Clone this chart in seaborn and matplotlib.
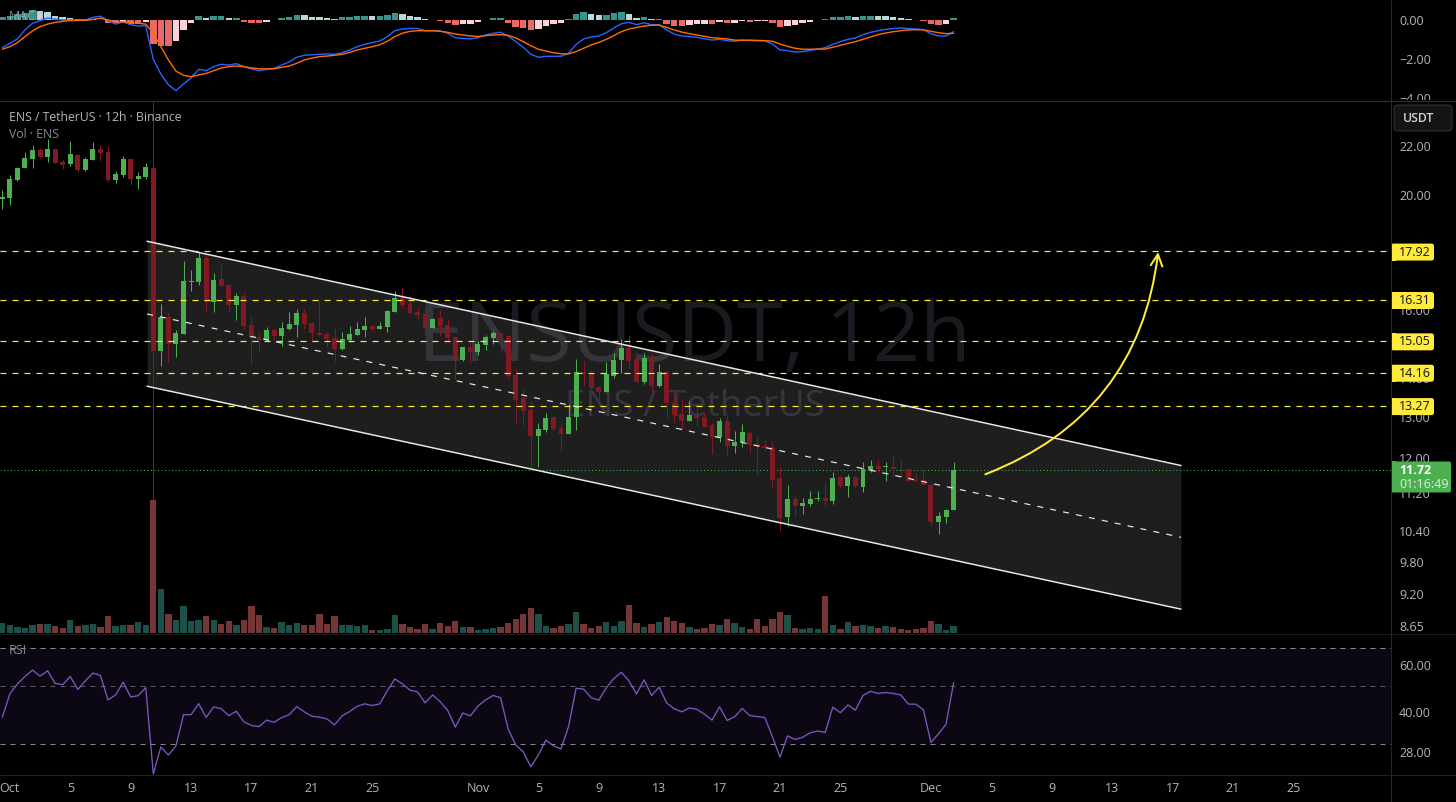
import matplotlib
matplotlib.use("Agg")
import matplotlib.pyplot as plt
import numpy as np
import pandas as pd
import seaborn as sns
from matplotlib.patches import FancyBboxPatch, Rectangle
from matplotlib.ticker import NullLocator
from matplotlib.transforms import Bbox

opens = [19.84,19.88,20.59,21.08,21.46,21.83,21.54,21.87,21.33,21.25,21.62,21.00,21.41,21.87,21.75,20.59,20.79,21.46,20.63,20.71,
 21.08,14.76,15.77,14.97,15.26,16.88,16.88,17.69,16.24,16.98,16.78,16.14,16.43,15.53,15.17,15.08,15.38,15.20,15.41,15.53,
 15.89,15.59,15.29,15.26,15.14,14.82,15.08,15.23,15.38,15.50,15.41,15.47,15.92,16.37,16.18,15.92,15.86,15.44,15.74,15.53,
 15.17,14.51,14.88,14.73,14.94,15.14,15.29,15.20,14.09,13.47,13.16,12.51,12.66,12.98,12.71,12.56,12.98,14.17,14.12,13.76,
 13.63,14.06,14.51,14.85,14.53,13.90,14.56,13.79,14.17,13.34,13.06,12.88,13.03,12.98,12.78,12.49,12.88,12.27,12.37,12.58,
 12.32,12.27,12.25,11.53,10.69,11.07,10.92,10.96,11.07,11.09,11.03,11.55,11.35,11.55,11.33,11.71,11.82,11.78,11.78,11.75,
 11.75,11.50,11.50,11.39,10.59,10.69,10.84]
highs = [20.19,20.79,21.12,21.75,22.04,21.91,22.30,21.87,21.46,22.21,21.66,21.54,22.17,22.04,22.00,20.96,21.58,21.46,20.92,21.29,
 24.20,16.18,15.92,15.38,17.59,17.28,17.90,17.83,17.18,17.45,16.82,16.53,16.56,15.80,15.32,15.47,15.41,15.62,15.92,16.02,
 16.02,15.62,16.30,15.32,15.44,15.32,15.50,15.62,15.77,15.50,15.62,15.98,16.59,16.72,16.43,16.05,16.11,15.74,15.98,15.71,
 15.17,14.88,14.99,15.05,15.23,15.35,15.29,15.23,14.26,13.71,13.39,12.83,13.08,12.98,12.83,13.31,14.53,14.48,14.23,13.76,
 14.45,14.70,15.11,15.23,14.53,14.70,14.70,14.40,14.23,13.60,13.44,13.39,13.34,13.11,12.83,12.96,13.06,12.63,12.81,12.63,
 12.49,12.41,12.39,11.78,11.39,11.15,11.09,11.24,11.24,11.44,11.68,11.59,11.62,11.59,11.89,11.94,11.98,11.89,12.03,11.94,
 11.75,11.66,11.71,11.42,10.79,10.86,11.91]
lows = [19.46,19.61,20.55,21.08,21.08,21.50,21.33,21.29,21.04,21.16,20.92,20.96,21.41,21.37,20.51,20.47,20.71,20.39,20.23,20.63,
 11.05,14.34,14.45,14.59,15.26,16.59,16.78,15.92,15.92,16.72,15.92,15.68,15.38,14.40,14.73,15.05,15.08,14.91,15.38,15.17,
 15.41,15.02,15.20,14.88,14.48,14.79,15.02,15.23,15.17,15.35,15.41,15.32,15.92,16.05,15.86,15.71,15.23,15.44,15.20,15.05,
 13.98,14.48,14.42,14.65,14.79,14.97,14.70,13.98,12.83,12.78,11.73,11.78,12.61,12.63,12.17,12.56,12.66,13.79,13.63,13.26,
 13.63,14.01,14.15,14.26,13.87,13.84,13.63,13.76,12.96,12.83,12.68,12.88,12.76,12.73,12.08,12.37,12.05,12.10,12.25,12.10,
 11.62,12.17,11.31,10.40,10.50,10.71,10.75,10.92,11.03,10.92,10.96,11.31,11.11,11.31,11.22,11.68,11.66,11.48,11.59,11.57,
 11.48,11.44,11.37,10.50,10.34,10.57,10.84]
closes = [19.92,20.63,21.08,21.50,21.83,21.54,21.87,21.29,21.21,21.66,21.00,21.46,21.87,21.71,20.59,20.83,21.46,20.63,20.75,21.12,
 14.76,15.77,14.97,15.29,16.92,16.92,17.69,16.24,16.95,16.75,16.14,16.43,15.50,15.14,15.08,15.38,15.20,15.44,15.56,15.89,
 15.56,15.29,15.23,15.11,14.82,15.11,15.26,15.41,15.50,15.41,15.50,15.95,16.37,16.14,15.89,15.83,15.44,15.71,15.50,15.14,
 14.51,14.88,14.73,14.97,15.17,15.29,15.17,14.06,13.42,13.13,12.51,12.68,12.96,12.68,12.56,12.98,14.17,14.12,13.74,13.63,
 14.12,14.51,14.85,14.48,13.90,14.56,13.79,14.17,13.34,13.03,12.88,13.03,12.96,12.73,12.49,12.88,12.27,12.37,12.61,12.29,
 12.25,12.22,11.50,10.67,11.07,10.92,10.98,11.07,11.09,11.03,11.53,11.35,11.55,11.35,11.73,11.82,11.75,11.80,11.75,11.73,
 11.48,11.46,11.37,10.59,10.71,10.84,11.72]
volume = [31,25,19,16,25,28,28,22,16,40,22,25,28,19,52,22,25,25,34,25,400,133,58,40,82,37,40,52,40,28,37,25,40,82,55,19,16,34,25,31,
 25,25,58,28,52,25,25,22,25,10,10,13,55,28,19,13,28,13,31,22,37,19,19,10,13,16,19,31,43,58,76,58,22,16,22,28,64,28,16,22,34,22,37,85,
 31,19,28,34,49,37,31,19,13,16,28,25,43,31,19,13,43,22,43,64,55,16,13,16,13,112,25,13,34,22,25,22,16,22,19,13,10,13,16,37,28,10,22]
rsi = [38.06,46.7,51.0,54.45,57.6,54.6,57.3,51.2,50.7,54.45,48.6,52.4,56.1,54.9,44.3,46.3,51.8,45.5,46.0,49.4,23.1,29.3,27.3,29.6,38.9,38.9,
 42.9,38.0,41.7,41.0,38.6,40.1,36.5,35.4,35.05,37.1,36.4,37.95,38.9,41.8,39.9,38.4,38.05,37.5,35.6,38.5,40.0,41.9,42.8,42.2,42.8,48.1,53.3,
 51.0,48.3,47.6,43.2,46.3,43.6,40.4,34.9,39.5,38.5,42.0,44.3,46.1,45.2,34.3,29.8,28.1,24.6,27.3,31.1,29.6,28.8,35.05,49.1,48.7,45.2,44.2,
 49.3,53.5,56.5,52.4,46.7,52.9,46.1,49.6,43.1,41.0,39.9,41.3,40.8,39.1,37.1,41.7,37.0,38.2,41.1,38.6,38.3,37.95,32.1,26.8,32.3,31.3,31.9,
 33.2,33.7,33.3,41.6,39.6,42.4,40.5,46.1,47.8,46.9,47.3,46.9,46.3,42.7,42.7,40.6,30.5,32.9,35.8,51.6]
macd = [-1.42,-1.20,-0.97,-0.51,-0.17,-0.03,0.10,0.05,0,0,0,0,0.14,0.19,-0.03,-0.21,-0.10,-0.24,-0.31,-0.29,-2.02,-2.77,-3.33,-3.62,-3.28,-2.97,
 -2.53,-2.60,-2.39,-2.27,-2.31,-2.24,-2.39,-2.51,-2.60,-2.53,-2.48,-2.31,-2.15,-1.91,-1.81,-1.78,-1.76,-1.74,-1.76,-1.68,-1.54,-1.37,-1.25,
 -1.16,-1.08,-0.85,-0.55,-0.46,-0.43,-0.44,-0.55,-0.55,-0.56,-0.68,-0.91,-0.94,-0.97,-0.91,-0.77,-0.68,-0.63,-0.82,-1.11,-1.40,-1.76,-1.91,
 -1.86,-1.86,-1.86,-1.71,-1.25,-0.97,-0.87,-0.82,-0.65,-0.41,-0.19,-0.12,-0.24,-0.14,-0.24,-0.24,-0.51,-0.72,-0.82,-0.85,-0.89,-0.96,-1.03,
 -0.99,-1.06,-1.09,-1.03,-1.04,-1.04,-1.06,-1.23,-1.54,-1.57,-1.64,-1.62,-1.56,-1.49,-1.42,-1.25,-1.11,-0.99,-0.92,-0.75,-0.63,-0.55,-0.48,
 -0.44,-0.41,-0.44,-0.46,-0.50,-0.70,-0.82,-0.82,-0.60]
signal = [-1.50,-1.37,-1.16,-0.85,-0.56,-0.34,-0.21,-0.12,-0.07,-0.03,-0.02,-0.02,0.03,0.09,0,-0.09,-0.10,-0.12,-0.17,-0.21,-0.68,-1.37,-2.05,-2.62,
 -2.84,-2.91,-2.82,-2.74,-2.60,-2.46,-2.39,-2.36,-2.39,-2.46,-2.50,-2.51,-2.50,-2.43,-2.36,-2.22,-2.05,-1.95,-1.88,-1.85,-1.81,-1.76,-1.66,-1.54,
 -1.45,-1.37,-1.27,-1.09,-0.85,-0.68,-0.58,-0.55,-0.55,-0.55,-0.58,-0.63,-0.72,-0.77,-0.82,-0.85,-0.80,-0.77,-0.75,-0.79,-0.92,-1.11,-1.32,-1.50,
 -1.59,-1.68,-1.73,-1.74,-1.62,-1.45,-1.28,-1.15,-0.99,-0.80,-0.60,-0.46,-0.39,-0.31,-0.27,-0.26,-0.38,-0.51,-0.62,-0.70,-0.77,-0.84,-0.91,-0.94,
 -0.97,-1.03,-1.04,-1.04,-1.06,-1.06,-1.09,-1.23,-1.35,-1.45,-1.50,-1.50,-1.49,-1.49,-1.40,-1.30,-1.20,-1.11,-0.99,-0.87,-0.75,-0.67,-0.60,-0.55,
 -0.51,-0.50,-0.50,-0.58,-0.65,-0.70,-0.68]
hist = [0.14,0.22,0.31,0.38,0.51,0.46,0.41,0.21,0.14,0.09,0.05,0.04,0.03,0.02,-0.15,-0.17,-0.10,-0.19,-0.21,-0.10,-1.23,-1.33,-1.34,-1.08,-0.51,-0.15,
 0.22,0.10,0.21,0.22,0.10,0.11,-0.10,-0.15,-0.16,-0.10,0.02,0.10,0.15,0.26,0.25,0.15,0.14,0.10,0.05,0.15,0.16,0.21,0.22,0.21,0.22,0.26,0.36,0.31,
 0.21,0.15,0.05,0.01,-0.05,-0.15,-0.26,-0.21,-0.20,-0.10,0.01,0.10,0.11,-0.15,-0.36,-0.41,-0.51,-0.46,-0.31,-0.21,-0.15,0.03,0.31,0.41,0.31,0.26,
 0.27,0.36,0.41,0.31,0.10,0.15,0.03,0.05,-0.21,-0.31,-0.32,-0.26,-0.21,-0.20,-0.21,-0.10,-0.15,-0.14,-0.05,-0.10,-0.05,-0.04,-0.15,-0.36,-0.31,
 -0.26,-0.15,-0.10,0.01,0.05,0.15,0.16,0.21,0.15,0.21,0.22,0.21,0.20,0.15,0.10,0.05,0.01,-0.05,-0.21,-0.26,-0.21,0.10]

levels = [17.92, 16.31, 15.05, 14.16, 13.27]
level_labels = ["17.92", "16.31", "15.05", "14.16", "13.27"]
last_price = 11.72
channel_x = [19.17, 156.12]
channel_upper = [18.28, 11.82]
channel_mid = [15.87, 10.28]
channel_lower = [13.79, 8.94]
arrow_start = (130.2, 11.62)
arrow_end = (153.1, 17.90)

price_ticks = [22, 20, 16, 14, 13, 12, 11.2, 10.4, 9.8, 9.2, 8.65]
price_tick_labels = ["22.00", "20.00", "16.00", "14.00", "13.00", "12.00", "11.20", "10.40", "9.80", "9.20", "8.65"]
macd_ticks = [0, -2, -4]
macd_tick_labels = ["0.00", "\u22122.00", "\u22124.00"]
rsi_ticks = [60, 40, 28]
rsi_tick_labels = ["60.00", "40.00", "28.00"]
rsi_bands = [70, 50, 30]
date_ticks = [1, 9, 17, 25, 33, 41, 49, 63, 71, 79, 87, 95, 103, 111, 123, 131, 139, 147, 155, 163, 171]
date_labels = ["Oct", "5", "9", "13", "17", "21", "25", "Nov", "5", "9", "13", "17", "21", "25", "Dec", "5", "9", "13", "17", "21", "25"]

W, H = 1456, 802
PANEL_W = 1391
GREEN, RED = "#4CAF50", "#801922"
TEXT = "#b2b5be"
YELLOW = "#FFEB3B"

sns.set_theme(style="dark", rc={"figure.facecolor": "black", "axes.facecolor": "none", "savefig.facecolor": "black",
                                "axes.grid": False, "axes.linewidth": 0})
plt.rcParams["font.family"] = ["Open Sans", "DejaVu Sans"]

fig = plt.figure(figsize=(W / 100, H / 100), dpi=100)

def panel(top, bottom, zorder=2):
    a = fig.add_axes([0, 1 - bottom / H, PANEL_W / W, (bottom - top) / H], zorder=zorder)
    a.patch.set_alpha(0)
    for s in a.spines.values():
        s.set_visible(False)
    return a

px = lambda n: n * 0.72  # device pixels to points at 100 dpi
XLIM = (-2.3 / 7.55, (PANEL_W - 2.3) / 7.55)
idx = np.arange(len(closes))

def right_ticks(a, ticks, labels):
    a.set_yticks(ticks, labels)
    a.yaxis.set_minor_locator(NullLocator())
    a.yaxis.tick_right()
    a.tick_params(axis="y", which="both", length=0, pad=px(8), labelsize=9, labelcolor=TEXT, right=False, left=False)

# ---------- MACD ----------
ax_macd = panel(0, 100)
hist_arr = np.array(hist)
prev = np.r_[hist_arr[0], hist_arr[:-1]]
hist_kind = np.where(hist_arr >= 0, np.where(hist_arr >= prev, "#26A69A", "#B2DFDB"),
                     np.where(hist_arr < prev, "#FF5252", "#FFCDD2"))
sns.barplot(x=idx, y=hist_arr, hue=hist_kind, palette={c: c for c in set(hist_kind)}, dodge=False,
            native_scale=True, width=0.86, legend=False, linewidth=0, ax=ax_macd)
sns.lineplot(x=idx, y=macd, color="#2962FF", lw=px(1.4), errorbar=None, ax=ax_macd)
sns.lineplot(x=idx, y=signal, color="#FF6D00", lw=px(1.4), errorbar=None, ax=ax_macd)
ax_macd.set(xlim=XLIM, ylim=(-80 / 19.5, 20 / 19.5), xlabel="", ylabel="", xticks=[])
right_ticks(ax_macd, macd_ticks, macd_tick_labels)
for lab in ax_macd.get_yticklabels():
    lab.set_clip_on(True)
    lab.set_clip_box(Bbox([[0, H - 100], [W, H]]))

# ---------- Volume ----------
ax_vol = panel(101, 633.3, zorder=1)
vol_kind = np.where(np.array(closes) >= np.array(opens), "up", "down")
sns.barplot(x=idx, y=volume, hue=vol_kind, palette={"up": "#14584f", "down": "#7f2b2d"}, dodge=False,
            native_scale=True, width=0.84, legend=False, linewidth=0, ax=ax_vol)
ax_vol.set(xlim=XLIM, ylim=(0, 1597), xlabel="", ylabel="", xticks=[], yticks=[])

# ---------- Price ----------
ax = panel(101, 633.3)
ax.set_yscale("log")
ax.set_ylim(8.53, 24.01)
ax.set_xlim(*XLIM)
ax.set_xticks([])
right_ticks(ax, price_ticks, price_tick_labels)

ax.text(0.499, 0.551, "ENSUSDT, 12h", transform=ax.transAxes, ha="center", va="center", fontsize=59.5, color="#191b20", zorder=0)
ax.text(0.4995, 0.425, "ENS / TetherUS", transform=ax.transAxes, ha="center", va="center", fontsize=26.5, color="#191b20", zorder=0)

ax.fill_between(channel_x, channel_lower, channel_upper, facecolor="white", alpha=0.12, linewidth=0, zorder=1)

colors = np.where(np.array(closes) >= np.array(opens), GREEN, RED)
ax.vlines(idx, lows, highs, colors=colors, lw=px(1), zorder=3)
ax.bar(idx, np.abs(np.array(closes) - np.array(opens)), bottom=np.minimum(opens, closes), width=0.66,
       color=colors, linewidth=0, zorder=4)

for lv in levels:
    ax.axhline(lv, color=YELLOW, lw=px(1.2), dashes=(5, 5), zorder=5)
ax.axhline(last_price, color=GREEN, lw=px(1), dashes=(1, 2.5), zorder=2)
ax.plot(channel_x, channel_upper, color="#e8e8e8", lw=px(1.5), zorder=5)
ax.plot(channel_x, channel_lower, color="#e8e8e8", lw=px(1.5), zorder=5)
ax.plot(channel_x, channel_mid, color="#e8e8e8", lw=px(1.2), dashes=(5, 6), zorder=5)
ax.annotate("", xy=arrow_end, xytext=arrow_start, zorder=6,
            arrowprops=dict(arrowstyle="->,head_length=0.7,head_width=0.35", color=YELLOW, lw=px(2),
                            connectionstyle="arc3,rad=0.3", shrinkA=0, shrinkB=0))

# ---------- RSI ----------
ax_rsi = panel(633.3, 775)
ax_rsi.set_yscale("log")
ax_rsi.axhspan(rsi_bands[2], rsi_bands[0], color="#7E57C2", alpha=0.1, linewidth=0)
for b, c in zip(rsi_bands, ["#8a8a92", "#5c5c66", "#8a8a92"]):
    ax_rsi.axhline(b, color=c, lw=px(1), dashes=(5, 5))
sns.lineplot(x=idx, y=rsi, color="#7E57C2", lw=px(1.3), errorbar=None, ax=ax_rsi)
ax_rsi.set(xlim=XLIM, ylim=(22.9, 79.6), xlabel="", ylabel="")
right_ticks(ax_rsi, rsi_ticks, rsi_tick_labels)
ax_rsi.set_xticks(date_ticks, date_labels)
ax_rsi.tick_params(axis="x", length=0, pad=px(7), labelsize=9, labelcolor=TEXT, bottom=False)

# ---------- Chrome: separators, labels, price tags ----------
chrome = fig.add_axes([0, 0, 1, 1], zorder=5)
chrome.set_xlim(0, W)
chrome.set_ylim(H, 0)
chrome.axis("off")
chrome.patch.set_alpha(0)
chrome.plot([0, W], [100.5, 100.5], color="#2a2e39", lw=px(1.2))
chrome.plot([0, W], [633.5, 633.5], color="#1c1c20", lw=px(1))
chrome.plot([0, W], [775, 775], color="#222226", lw=px(1))
chrome.plot([1390.5, 1390.5], [0, H], color="#26262b", lw=px(1))

chrome.text(9, 16, "MACD", color=TEXT, alpha=0.75, fontsize=9, va="center")
chrome.text(9, 117.5, "ENS / TetherUS \u00b7 12h \u00b7 Binance", color=TEXT, fontsize=8.85, va="center")
chrome.text(9, 134.5, "Vol \u00b7 ENS", color="#878a94", fontsize=8.85, va="center")
chrome.text(9, 651, "RSI", color="#878a94", fontsize=9, va="center")

def y_px(price):
    return H - ax.transData.transform((0, price))[1] + 0.6

for lv, lab in zip(levels, level_labels):
    y = y_px(lv)
    chrome.add_patch(FancyBboxPatch((1391, y - 8.5), 43, 17, boxstyle="round,pad=0,rounding_size=2.5", fc=YELLOW, ec="none"))
    chrome.add_patch(Rectangle((1391, y - 8.5), 5, 17, fc=YELLOW, ec="none"))
    chrome.text(1399, y, lab, color="#131313", fontsize=9, va="center")

yl = y_px(last_price)
chrome.add_patch(FancyBboxPatch((1391, yl - 9), 60, 31, boxstyle="round,pad=0,rounding_size=2", fc=GREEN, ec="none"))
chrome.add_patch(Rectangle((1391, yl - 9), 5, 31, fc=GREEN, ec="none"))
chrome.text(1399, yl, "11.72", color="white", fontsize=9, fontweight="bold", va="center")
chrome.text(1399, yl + 14.5, "01:16:49", color="#dcefdd", fontsize=9, va="center")

chrome.add_patch(FancyBboxPatch((1394, 105), 58, 26, boxstyle="round,pad=0,rounding_size=4", fc="#141414", ec="#333333", lw=px(1)))
chrome.text(1403, 118.5, "USDT", color="#d1d4dc", fontsize=8.8, fontweight="semibold", va="center")

fig.savefig("out.png", dpi=100, facecolor="black")
